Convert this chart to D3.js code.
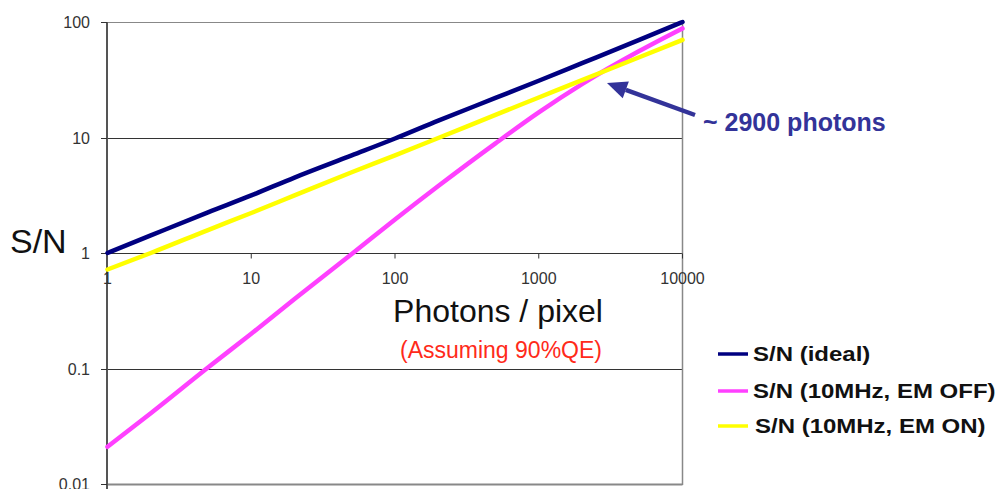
<!DOCTYPE html>
<html><head><meta charset="utf-8">
<script src="https://cdn.jsdelivr.net/npm/d3@7/dist/d3.min.js"></script>
<style>html,body{margin:0;padding:0;background:#fff;}svg{display:block;font-family:"Liberation Sans",Arial,sans-serif;}</style>
</head><body>
<svg id="c" width="998" height="489"></svg>
<script>
const photons = [1, 2, 5, 10, 20, 50, 100, 200, 500, 1000, 2000, 5000, 10000];
const snIdeal = [1.0, 1.42, 2.25, 3.15, 4.5, 7.0, 9.8, 14, 22, 31, 44, 70, 100];
const snEmOff = [0.021, 0.041, 0.102, 0.2, 0.4, 0.98, 1.95, 3.8, 8.9, 16.5, 29, 56, 88];
const snEmOn  = [0.72, 1.0, 1.58, 2.22, 3.15, 5.0, 7.0, 9.9, 15.7, 22.2, 31.4, 49.5, 70];
const seriesNames = ["S/N (ideal)", "S/N (10MHz, EM OFF)", "S/N (10MHz, EM ON)"];
const seriesColors = ["#000080", "#ff40ff", "#ffff00"];
const xTicks = [1, 10, 100, 1000, 10000];
const xTickLabels = ["1", "10", "100", "1000", "10000"];
const yTicks = [0.01, 0.1, 1, 10, 100];
const yTickLabels = ["0.01", "0.1", "1", "10", "100"];

const svg = d3.select("#c");
const x = d3.scaleLog().domain([1, 10000]).range([107.5, 682.5]);
const y = d3.scaleLog().domain([0.01, 100]).range([484, 22]);

// horizontal gridlines
svg.append("g").selectAll("line").data(yTicks).join("line")
  .attr("x1", x(1)).attr("x2", x(10000))
  .attr("y1", d => Math.round(y(d)) + 0.5).attr("y2", d => Math.round(y(d)) + 0.5)
  .attr("stroke", d => (d === 100 || d === 0.01) ? "#888" : "#333")
  .attr("stroke-width", d => d === 0.01 ? 2 : 1);

// right border
svg.append("line").attr("x1", 682.5).attr("x2", 682.5).attr("y1", 22).attr("y2", 485)
  .attr("stroke", "#888").attr("stroke-width", 1.5);

// left axis
svg.append("line").attr("x1", 107).attr("x2", 107).attr("y1", 22).attr("y2", 489)
  .attr("stroke", "#555").attr("stroke-width", 2);
svg.append("g").selectAll("line").data(yTicks).join("line")
  .attr("x1", 101).attr("x2", 107)
  .attr("y1", d => Math.round(y(d)) + 0.5).attr("y2", d => Math.round(y(d)) + 0.5)
  .attr("stroke", "#333").attr("stroke-width", 1);
svg.append("g").selectAll("text").data(yTicks).join("text")
  .attr("x", 90).attr("y", d => y(d) + 6)
  .attr("text-anchor", "end").attr("font-size", 16).attr("fill", "#333")
  .text((d, i) => yTickLabels[i]);

// x ticks along the y=1 line
const y1 = Math.round(y(1)) + 0.5;
svg.append("g").selectAll("line").data(xTicks.slice(1)).join("line")
  .attr("x1", d => x(d)).attr("x2", d => x(d))
  .attr("y1", y1).attr("y2", y1 + 5)
  .attr("stroke", "#333").attr("stroke-width", 1);
svg.append("g").selectAll("text").data(xTicks).join("text")
  .attr("x", d => x(d)).attr("y", 284)
  .attr("text-anchor", "middle").attr("font-size", 16).attr("fill", "#333")
  .text((d, i) => xTickLabels[i]);

// series lines
const allSeries = [snIdeal, snEmOff, snEmOn];
const line = d3.line().x(d => x(d[0])).y(d => y(d[1])).curve(d3.curveMonotoneX);
allSeries.forEach((vals, i) => {
  svg.append("path")
    .datum(photons.map((p, j) => [p, vals[j]]))
    .attr("d", line)
    .attr("fill", "none")
    .attr("stroke", seriesColors[i])
    .attr("stroke-width", 4.5)
    .attr("stroke-linecap", "round");
});

// axis titles
svg.append("text").attr("x", 10).attr("y", 253).attr("font-size", 34).attr("fill", "#111").text("S/N");
svg.append("text").attr("x", 498).attr("y", 322).attr("text-anchor", "middle")
  .attr("font-size", 32).attr("fill", "#111").text("Photons / pixel");
svg.append("text").attr("x", 501).attr("y", 358).attr("text-anchor", "middle")
  .attr("font-size", 23).attr("fill", "#ff2a1a").text("(Assuming 90%QE)");

// annotation arrow
const arrowColor = "#333399";
const tail = [695, 115], tip = [607, 83];
const ang = Math.atan2(tip[1] - tail[1], tip[0] - tail[0]);
const hl = 20, hw = 9;
const base = [tip[0] - hl * Math.cos(ang), tip[1] - hl * Math.sin(ang)];
svg.append("line").attr("x1", tail[0]).attr("y1", tail[1]).attr("x2", base[0]).attr("y2", base[1])
  .attr("stroke", arrowColor).attr("stroke-width", 4.5);
svg.append("path").attr("d", d3.line()([
  tip,
  [base[0] + hw * Math.sin(ang), base[1] - hw * Math.cos(ang)],
  [base[0] - hw * Math.sin(ang), base[1] + hw * Math.cos(ang)]
])).attr("fill", arrowColor);
svg.append("text").attr("x", 703).attr("y", 131).attr("font-size", 25).attr("font-weight", "bold")
  .attr("fill", arrowColor).text("~ 2900 photons");

// legend
const legY = [354, 391, 426];
const leg = svg.append("g");
seriesNames.forEach((name, i) => {
  leg.append("line").attr("x1", 718).attr("x2", 748).attr("y1", legY[i]).attr("y2", legY[i])
    .attr("stroke", seriesColors[i]).attr("stroke-width", 3.5);
  leg.append("text").attr("transform", `translate(${i === 2 ? 755 : 753},${legY[i] + 7}) scale(1.2,1)`)
    .attr("font-size", 20).attr("font-weight", "bold").attr("fill", "#111").text(name);
});
</script>
</body></html>
